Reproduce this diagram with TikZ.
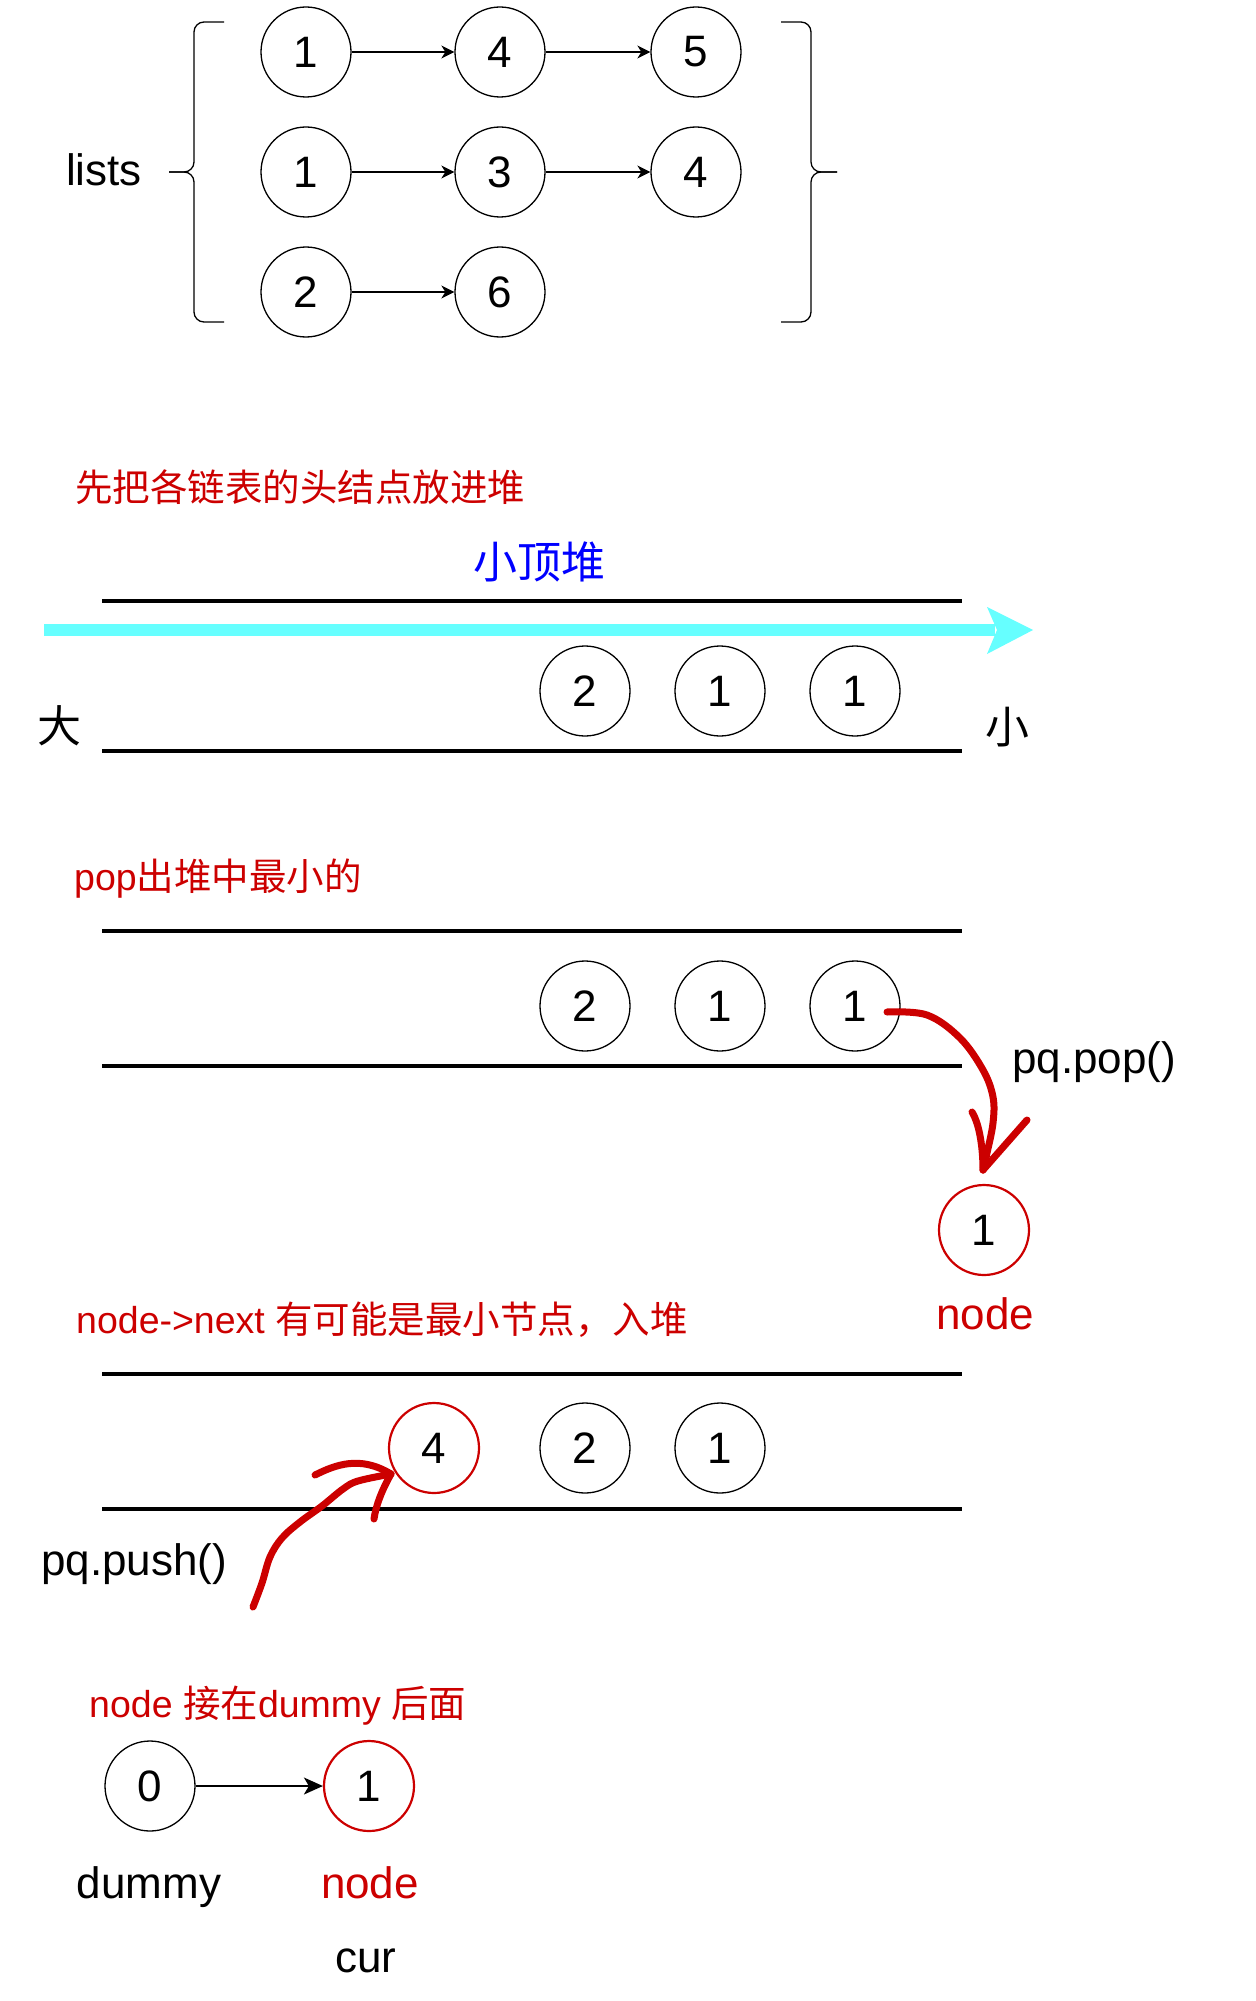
\documentclass[tikz,border=0pt]{standalone}
\usepackage{fontspec}
\setmainfont{Liberation Sans}
\newfontfamily\cjk{Noto Sans CJK SC}
\usetikzlibrary{arrows.meta}
\definecolor{myred}{HTML}{CC0000}
\definecolor{myblue}{HTML}{0000FF}
\definecolor{mycyan}{HTML}{66FFFF}
\begin{document}
\begin{tikzpicture}[x=1pt,y=-1pt,
  lnode/.style={circle, draw=black, line width=1.3pt, minimum size=90pt, inner sep=0pt, font=\fontsize{44}{50}\selectfont},
  rnode/.style={lnode, draw=myred, line width=2.2pt},
  link/.style={draw, line width=1.3pt, -{Stealth[length=13pt,width=13pt,inset=4pt]}},
  biglink/.style={draw, line width=1.8pt, -{Stealth[length=19pt,width=17pt,inset=5pt]}},
  heapline/.style={line width=4pt},
  bigtxt/.style={font=\fontsize{44}{50}\selectfont, inner sep=0pt},
  cjkbig/.style={font=\fontsize{44}{50}\selectfont\cjk, inner sep=0pt},
  captxt/.style={font=\fontsize{37.5}{44}\selectfont, text=myred, inner sep=0pt},
  hand/.style={draw=myred, line width=7pt, line cap=round, line join=round},
  brace/.style={line width=1.3pt, rounded corners=10pt},
]
\useasboundingbox (0,0) rectangle (1255,2001);

% ---------- section 1: lists ----------
\node[bigtxt, anchor=base] (lists) at (104,186) {lists};
\draw[brace] (224,22) -- (194,22) -- (194,172) -- (169,172);
\draw[brace] (224,322) -- (194,322) -- (194,172) -- (169,172);
\draw[brace] (781,22) -- (811,22) -- (811,172) -- (837,172);
\draw[brace] (781,322) -- (811,322) -- (811,172) -- (837,172);

\node[lnode] (a1) at (306,52) {1};
\node[lnode] (a2) at (500,52) {4};
\node[lnode] (a3) at (696,52) {5};
\node[lnode] (b1) at (306,172) {1};
\node[lnode] (b2) at (500,172) {3};
\node[lnode] (b3) at (696,172) {4};
\node[lnode] (c1) at (306,292) {2};
\node[lnode] (c2) at (500,292) {6};
\draw[link] (a1) -- (a2);
\draw[link] (a2) -- (a3);
\draw[link] (b1) -- (b2);
\draw[link] (b2) -- (b3);
\draw[link] (c1) -- (c2);

% ---------- section 2 ----------
\node[captxt, anchor=west] (t1) at (75,487) {\cjk 先把各链表的头结点放进堆};
\node[cjkbig, text=myblue] (t2) at (539,562) {小顶堆};
\draw[heapline] (102,601) -- (962,601);
\draw[heapline] (102,751) -- (962,751);
\draw[mycyan, line width=12pt] (44,630) -- (995,630);
\fill[mycyan] (987,607) -- (1033,630) -- (987,654) -- (997,630) -- cycle;
\node[lnode] (h11) at (585,691) {2};
\node[lnode] (h12) at (720,691) {1};
\node[lnode] (h13) at (855,691) {1};
\node[cjkbig] (da) at (59,726) {大};
\node[cjkbig] (xiao) at (1007,727) {小};

% ---------- section 3 ----------
\node[captxt, anchor=base west] (t3) at (74,890) {pop{\cjk 出堆中最小的}};
\draw[heapline] (102,931) -- (962,931);
\draw[heapline] (102,1066) -- (962,1066);
\node[lnode] (h21) at (585,1006) {2};
\node[lnode] (h22) at (720,1006) {1};
\node[lnode] (h23) at (855,1006) {1};
\node[rnode] (pn) at (984,1230) {1};
\node[bigtxt, text=myred, anchor=base] (pnl) at (985,1329) {node};
\node[bigtxt, anchor=base west] (pop) at (1012,1073) {pq.pop()};
\coordinate (popS) at (887,1012);
\coordinate (popT) at (983,1170);
\draw[hand] plot[smooth, tension=0.6] coordinates {(popS) (927,1015) (960,1038) (983,1070) (993,1097) (993,1123) (987,1153) (popT)};
\draw[hand] (972,1112) .. controls (980,1125) and (983,1150) .. (popT);
\draw[hand] (1027,1120) -- (popT);

% ---------- section 4 ----------
\node[captxt, anchor=base west] (t4) at (76,1333) {node->next {\cjk 有可能是最小节点，入堆}};
\draw[heapline] (102,1374) -- (962,1374);
\draw[heapline] (102,1509) -- (962,1509);
\node[rnode] (h31) at (434,1448) {4};
\node[lnode] (h32) at (585,1448) {2};
\node[lnode] (h33) at (720,1448) {1};
\node[bigtxt, anchor=base west] (push) at (41,1575) {pq.push()};
\coordinate (pushS) at (253,1607);
\coordinate (pushT) at (391,1474);
\draw[hand] plot[smooth, tension=0.6] coordinates {(pushS) (262,1583) (270,1557) (282,1538) (300,1522) (322,1506) (343,1489) (358,1481) (pushT)};
\draw[hand] (315,1475) .. controls (335,1465) and (360,1455) .. (pushT);
\draw[hand] (pushT) .. controls (382,1490) and (376,1505) .. (374,1519);

% ---------- section 5 ----------
\node[captxt, anchor=base west] (t5) at (89,1717) {node {\cjk 接在}dummy {\cjk 后面}};
\node[lnode] (d0) at (150,1786) {0};
\node[rnode] (d1) at (369,1786) {1};
\draw[biglink] (d0) -- (d1);
\node[bigtxt, anchor=base] (dl) at (149,1898) {dummy};
\node[bigtxt, text=myred, anchor=base] (nl) at (370,1898) {node};
\node[bigtxt, anchor=base] (cl) at (366,1972) {cur};
\end{tikzpicture}
\end{document}
